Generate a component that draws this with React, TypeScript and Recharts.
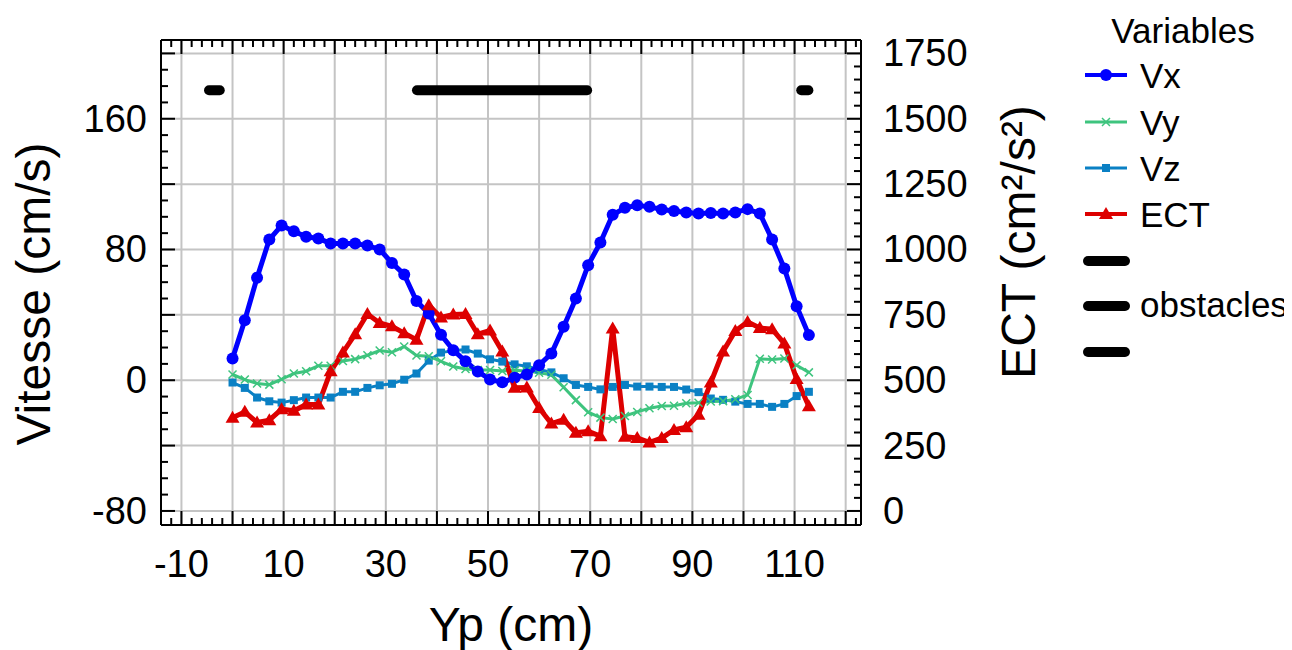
import { ComposedChart, Line, XAxis, YAxis, CartesianGrid } from 'recharts'

const YP = [0, 2.4, 4.8, 7.2, 9.6, 12, 14.4, 16.8, 19.2, 21.6, 24, 26.4, 28.8, 31.2, 33.6, 36, 38.4, 40.8, 43.2, 45.6, 48, 50.4, 52.8, 55.2, 57.6, 60, 62.4, 64.8, 67.2, 69.6, 72, 74.4, 76.8, 79.2, 81.6, 84, 86.4, 88.8, 91.2, 93.6, 96, 98.4, 100.8, 103.2, 105.6, 108, 110.4, 112.8]
const VX = [13.3, 36.7, 62.7, 86.1, 94.7, 91.2, 87.8, 86.7, 83.7, 83.7, 83.7, 82.4, 80.0, 71.8, 64.7, 48.5, 40.8, 27.8, 18.4, 11.6, 5.3, 0.5, -1.3, 1.5, 3.5, 9.2, 16.3, 32.7, 50.0, 70.4, 84.3, 101.2, 105.5, 107.1, 106.1, 104.5, 103.5, 102.7, 102.0, 102.4, 102.0, 102.7, 104.7, 102.0, 86.1, 68.4, 45.3, 27.6]
const VY = [3.5, 0.4, -2.0, -2.7, 0.6, 4.1, 5.5, 8.8, 8.8, 11.8, 12.9, 15.3, 18.2, 17.1, 20.6, 15.1, 14.7, 11.6, 8.4, 6.9, 6.3, 6.3, 5.6, 6.1, 5.6, 4.6, 3.3, -4.3, -12.2, -19.6, -22.9, -23.7, -21.9, -19.4, -17.2, -15.8, -15.6, -14.1, -13.8, -13.0, -12.8, -11.7, -9.0, 13.1, 12.7, 13.3, 9.2, 4.8]
const VZ = [-1.4, -4.7, -10.6, -12.9, -13.7, -12.2, -10.6, -10.6, -10.6, -7.1, -7.1, -4.7, -3.1, -2.2, 0.3, 4.1, 12.0, 16.9, 18.1, 18.8, 16.3, 12.8, 11.4, 9.7, 8.5, 6.6, 4.8, 1.2, -2.9, -4.1, -5.6, -4.1, -2.9, -3.9, -3.9, -4.1, -4.1, -5.7, -7.3, -11.2, -12.0, -13.1, -14.5, -14.5, -16.3, -14.5, -9.7, -7.1]
const ECT = [356, 379, 338, 347, 389, 383, 407, 407, 534, 606, 676, 753, 719, 706, 680, 655, 787, 740, 751, 753, 676, 690, 610, 471, 472, 394, 334, 349, 299, 305, 286, 698, 284, 279, 262, 279, 310, 320, 368, 491, 610, 688, 723, 700, 695, 640, 505, 400]

// obstacle extents along Yp, drawn at a fixed height on the velocity axis
const OBSTACLE_Y = 177.5
const OBSTACLES = [[-4.6, -2.5], [36.1, 69.4], [111.3, 112.7]]

const X_LABELS = [-10, 10, 30, 50, 70, 90, 110]
const X_GRID = [-10, 0, 10, 20, 30, 40, 50, 60, 70, 80, 90, 100, 110, 120]
const V_LABELS = [-80, 0, 80, 160]
const V_GRID = [-80, -40, 0, 40, 80, 120, 160, 200]
const ECT_LABELS = [0, 250, 500, 750, 1000, 1250, 1500, 1750]

const COLORS = { vx: '#0000ff', vy: '#3ec47e', vz: '#0a80c4', ect: '#dd0000' }
const FONT = '"Liberation Sans", Arial, sans-serif'

function range(a: number, b: number, step: number) {
  const out: number[] = []
  for (let v = a; v <= b; v += step) out.push(v)
  return out
}
const X_TICKS = range(-14, 122, 2)
const V_TICKS = range(-80, 200, 10)
const ECT_TICKS = range(0, 1750, 50)

const DATA = YP.map((yp, i) => ({ yp, vx: VX[i], vy: VY[i], vz: VZ[i], ect: ECT[i] }))

function BottomTick({ x, y, payload }: any) {
  const v = payload.value
  const len = v % 10 === 0 ? 14 : 7
  return (
    <g>
      <line x1={x} x2={x} y1={y} y2={y - len} stroke="#000" strokeWidth={2} />
      {X_LABELS.includes(v) && (
        <text x={x} y={y + 52} textAnchor="middle" fontSize={38} fontFamily={FONT} fill="#000">{v}</text>
      )}
    </g>
  )
}

function TopTick({ x, y, payload }: any) {
  const len = payload.value % 10 === 0 ? 14 : 7
  return <line x1={x} x2={x} y1={y} y2={y + len} stroke="#000" strokeWidth={2} />
}

function LeftTick({ x, y, payload }: any) {
  const v = payload.value
  const len = v % 40 === 0 ? 14 : 7
  return (
    <g>
      <line x1={x} x2={x + len} y1={y} y2={y} stroke="#000" strokeWidth={2} />
      {V_LABELS.includes(v) && (
        <text x={x - 14} y={y + 13} textAnchor="end" fontSize={38} fontFamily={FONT} fill="#000">{v}</text>
      )}
    </g>
  )
}

function RightTick({ x, y, payload }: any) {
  const v = payload.value
  const len = v % 250 === 0 ? 14 : 7
  return (
    <g>
      <line x1={x} x2={x - len} y1={y} y2={y} stroke="#000" strokeWidth={2} />
      {ECT_LABELS.includes(v) && (
        <text x={x + 22} y={y + 13} textAnchor="start" fontSize={38} fontFamily={FONT} fill="#000">{v}</text>
      )}
    </g>
  )
}

const CrossDot = ({ cx, cy }: any) => (
  <path d={`M${cx - 4},${cy - 4}L${cx + 4},${cy + 4}M${cx - 4},${cy + 4}L${cx + 4},${cy - 4}`} stroke={COLORS.vy} strokeWidth={1.5} />
)
const SquareDot = ({ cx, cy }: any) => <rect x={cx - 4} y={cy - 4} width={8} height={8} fill={COLORS.vz} />
const TriDot = ({ cx, cy }: any) => (
  <path d={`M${cx},${cy - 7}L${cx + 7},${cy + 5}L${cx - 7},${cy + 5}Z`} fill={COLORS.ect} />
)

function LegendBox() {
  const items = [
    { name: 'Vx', color: COLORS.vx, w: 4, y: 67 },
    { name: 'Vy', color: COLORS.vy, w: 3, y: 114 },
    { name: 'Vz', color: COLORS.vz, w: 3, y: 160 },
    { name: 'ECT', color: COLORS.ect, w: 4, y: 206 },
  ]
  return (
    <svg width={1284} height={642} style={{ position: 'absolute', left: 0, top: 0, pointerEvents: 'none' }} fontFamily={FONT}>
      <text x={1175} y={35} textAnchor="middle" fontSize={35}>Variables</text>
      {items.map((it) => (
        <g key={it.name}>
          <line x1={1077} x2={1119} y1={it.y} y2={it.y} stroke={it.color} strokeWidth={it.w} />
          {it.name === 'Vx' && <circle cx={1098} cy={it.y} r={6} fill={it.color} />}
          {it.name === 'Vy' && <CrossDot cx={1098} cy={it.y} />}
          {it.name === 'Vz' && <SquareDot cx={1098} cy={it.y} />}
          {it.name === 'ECT' && <TriDot cx={1098} cy={it.y} />}
          <text x={1132} y={it.y + 13} fontSize={35}>{it.name}</text>
        </g>
      ))}
      {[253, 298, 344].map((y) => (
        <line key={y} x1={1080} x2={1117} y1={y} y2={y} stroke="#000" strokeWidth={10} strokeLinecap="round" />
      ))}
      <text x={1132} y={309} fontSize={35}>obstacles</text>

      <text x={42} y={286} transform="rotate(-90 42 286)" textAnchor="middle" fontSize={48}>Vitesse (cm/s)</text>
      <text x={1027} y={234} transform="rotate(-90 1027 234)" textAnchor="middle" fontSize={48}>ECT (cm²/s²)</text>
      <text x={503} y={633} textAnchor="middle" fontSize={48}>Yp (cm)</text>
    </svg>
  )
}

export default function App() {
  return (
    <div style={{ position: 'relative', width: 1284, height: 642, overflow: 'hidden', background: '#fff' }}>
      <ComposedChart width={1280} height={640} data={DATA} margin={{ top: 22, right: 277, bottom: 63, left: 0 }}>
        <CartesianGrid xAxisId={0} yAxisId="left" verticalValues={X_GRID} horizontalValues={V_GRID} stroke="#c4c4c4" strokeWidth={2} />
        <XAxis dataKey="yp" type="number" domain={[-14, 123]} ticks={X_TICKS} interval={0} height={60}
          tickLine={false} tickSize={0} tickMargin={0} axisLine={{ stroke: '#000', strokeWidth: 2 }} tick={(p: any) => <BottomTick {...p} />} />
        <XAxis xAxisId="top" orientation="top" dataKey="yp" type="number" domain={[-14, 123]} ticks={X_TICKS} interval={0} height={10}
          tickLine={false} tickSize={0} tickMargin={0} axisLine={{ stroke: '#000', strokeWidth: 2 }} tick={(p: any) => <TopTick {...p} />} />
        <YAxis yAxisId="left" type="number" domain={[-88.6, 208.2]} ticks={V_TICKS} interval={0} width={153}
          tickLine={false} tickSize={0} tickMargin={0} axisLine={{ stroke: '#000', strokeWidth: 2 }} tick={(p: any) => <LeftTick {...p} />} />
        <YAxis yAxisId="right" orientation="right" type="number" domain={[-53.75, 1801.25]} ticks={ECT_TICKS} interval={0} width={150}
          tickLine={false} tickSize={0} tickMargin={0} axisLine={{ stroke: '#000', strokeWidth: 2 }} tick={(p: any) => <RightTick {...p} />} />

        <Line yAxisId="left" dataKey="vz" name="Vz" stroke={COLORS.vz} strokeWidth={3} dot={(p: any) => <SquareDot key={p.index} {...p} />} isAnimationActive={false} />
        <Line yAxisId="left" dataKey="vy" name="Vy" stroke={COLORS.vy} strokeWidth={3} dot={(p: any) => <CrossDot key={p.index} {...p} />} isAnimationActive={false} />
        <Line yAxisId="left" dataKey="vx" name="Vx" stroke={COLORS.vx} strokeWidth={5} dot={{ r: 6, fill: COLORS.vx, stroke: 'none' }} isAnimationActive={false} />
        <Line yAxisId="right" dataKey="ect" name="ECT" stroke={COLORS.ect} strokeWidth={5} dot={(p: any) => <TriDot key={p.index} {...p} />} isAnimationActive={false} />
        {OBSTACLES.map(([a, b], k) => (
          <Line key={k} yAxisId="left" data={[{ yp: a, obs: OBSTACLE_Y }, { yp: b, obs: OBSTACLE_Y }]} dataKey="obs"
            stroke="#000" strokeWidth={10} strokeLinecap="round" dot={false} isAnimationActive={false} />
        ))}
      </ComposedChart>
      <LegendBox />
    </div>
  )
}
